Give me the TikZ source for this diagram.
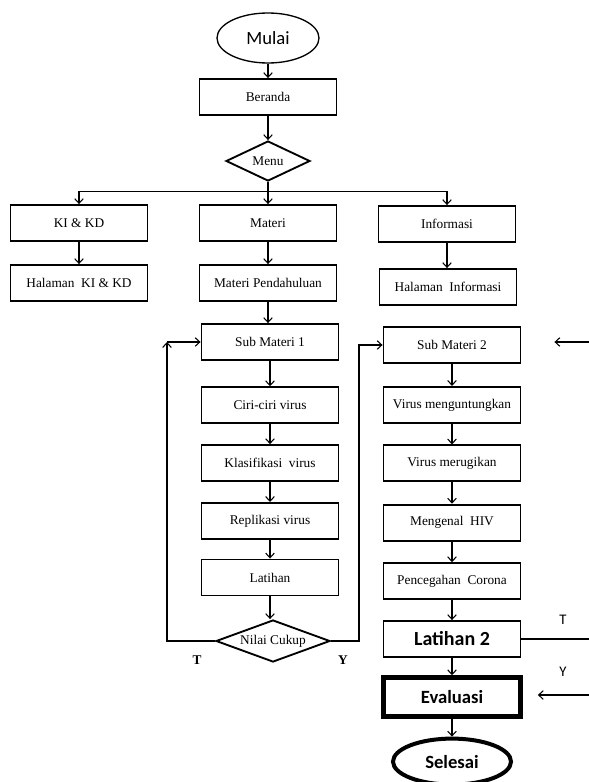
\documentclass[tikz,border=0pt]{standalone}
\usepackage{fontspec}
\setmainfont{Liberation Serif}
\newfontfamily\calibri{Carlito}
\usetikzlibrary{positioning,shapes.geometric,arrows.meta}

\begin{document}
\begin{tikzpicture}[x=0.75pt, y=-0.75pt,
        procbox/.style={draw, line width=1.4pt, minimum width=102.75pt, minimum height=27pt, inner sep=1pt, font=\fontsize{10}{12}\selectfont},
        decide/.style={draw, diamond, aspect=2.7, line width=1.4pt, inner sep=0pt, font=\fontsize{10}{12}\selectfont},
        terminal/.style={draw, ellipse, inner sep=0pt, font=\calibri\fontsize{14}{16}\selectfont},
        flow/.style={-{Straight Barb[length=3.5pt, width=6.5pt]}, line width=0.8pt}]
            \useasboundingbox (0,0) rectangle (589,782);

            % top
            \node [terminal, line width=1pt, minimum width=76.5pt, minimum height=37.5pt] (mulai) at (268,38) {Mulai};
            \node [procbox] (beranda) at (268,97) {Beranda};
            \node [decide, minimum width=63pt, minimum height=30pt] (menu) at (268,161) {Menu};

            \node [procbox] (kikd) at (79,223) {KI \& KD};
            \node [procbox] (materi) at (268,223) {Materi};
            \node [procbox] (informasi) at (447,224) {Informasi};
            \node [procbox] (halkikd) at (79,283) {Halaman\enspace KI \& KD};
            \node [procbox] (pendahuluan) at (268,283) {Materi Pendahuluan};
            \node [procbox] (halinfo) at (448,287) {Halaman\enspace Informasi};

            % sub materi 1
            \node [procbox] (sub1) at (270,342) {Sub Materi 1};
            \node [procbox, below=19pt of sub1] (ciri) {Ciri-ciri virus};
            \node [procbox, below=15pt of ciri] (klasifikasi) {Klasifikasi\enspace virus};
            \node [procbox, below=15pt of klasifikasi] (replikasi) {Replikasi virus};
            \node [procbox, below=14pt of replikasi] (latihan) {Latihan};
            \node [decide, minimum width=85.5pt, minimum height=31.5pt] (nilai) at (273,641) {Nilai Cukup};

            % sub materi 2
            \node [procbox] (sub2) at (452,345) {Sub Materi 2};
            \node [procbox, below=16.5pt of sub2] (untung) {Virus menguntungkan};
            \node [procbox, below=15.5pt of untung] (rugi) {Virus merugikan};
            \node [procbox, below=16pt of rugi] (hiv) {Mengenal\enspace HIV};
            \node [procbox, below=15.5pt of hiv] (corona) {Pencegahan\enspace Corona};
            \node [procbox, below=15pt of corona, font=\calibri\bfseries\fontsize{15}{17}\selectfont] (latihan2) {Latihan 2};
            \node [procbox, below=13pt of latihan2, line width=3.5pt, minimum height=29pt, font=\calibri\bfseries\fontsize{14}{16}\selectfont] (evaluasi) {Evaluasi};
            \node [terminal, below=13.5pt of evaluasi, line width=3pt, minimum width=88.5pt, minimum height=34.5pt, font=\calibri\bfseries\fontsize{14}{16}\selectfont] (selesai) {Selesai};

            % connectors
            \draw [flow] (mulai.south) -- (mulai.south |- beranda.north);
            \draw [flow] (beranda.south) -- (beranda.south |- menu.north);
            \draw [flow] (menu.south) -- (menu.south |- materi.north);
            \draw [flow] (menu.south) -- ++(0,10) -| (kikd.north);
            \draw [flow] (menu.south) -- ++(0,10) -| (informasi.north);
            \draw [flow] (kikd) -- (halkikd);
            \draw [flow] (materi) -- (pendahuluan);
            \draw [flow] (informasi.south) -- (informasi.south |- halinfo.north);
            \draw [flow] (pendahuluan.south) -- (pendahuluan.south |- sub1.north);
            \draw [flow] (sub1) -- (ciri);
            \draw [flow] (ciri) -- (klasifikasi);
            \draw [flow] (klasifikasi) -- (replikasi);
            \draw [flow] (replikasi) -- (latihan);
            \draw [flow] (latihan.south) -- (latihan.south |- nilai.north);
            \draw [flow] (sub2) -- (untung);
            \draw [flow] (untung) -- (rugi);
            \draw [flow] (rugi) -- (hiv);
            \draw [flow] (hiv) -- (corona);
            \draw [flow] (corona) -- (latihan2);
            \draw [flow] (latihan2) -- (evaluasi);
            \draw [flow] (evaluasi) -- (selesai);

            % loops from Nilai Cukup
            \coordinate (balik) at (167,342);
            \coordinate (lanjut) at (359,345);
            \draw [flow] (nilai.west) -| (balik);
            \draw [flow] (balik) -- (sub1.west);
            \draw [flow] (nilai.east) -| (lanjut) -- (sub2.west);
            \node [font=\bfseries] (labelT) at (197,660) {T};
            \node [font=\bfseries] (labelY) at (343,660) {Y};

            % right edge
            \coordinate (kanan1) at (589,342);
            \coordinate (kanan2) at (589,635);
            \coordinate (kanan3) at (589,695);
            \draw [flow, shorten >=24.75pt] (kanan1) -- (kanan1 -| sub2.east);
            \draw [line width=0.8pt] (latihan2.east) -- (latihan2.east -| kanan2);
            \draw [flow, shorten >=11.25pt] (kanan3) -- (kanan3 -| evaluasi.east);
            \node [font=\calibri\fontsize{11}{13}\selectfont] (ketT) at (563,620) {T};
            \node [font=\calibri\fontsize{11}{13}\selectfont] (ketY) at (563,672) {Y};
        \end{tikzpicture}
\end{document}
